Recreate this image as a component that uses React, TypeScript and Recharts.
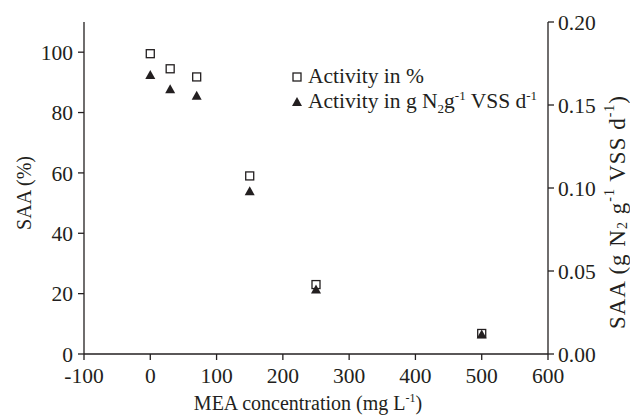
import React from 'react';
import {
  ScatterChart,
  Scatter,
  XAxis,
  YAxis,
  Label,
} from 'recharts';

const concentrations = [0, 30, 70, 150, 250, 500];
const activityPercent = [99.5, 94.5, 91.8, 59, 23, 6.8];
const activityRate = [0.168, 0.1595, 0.1555, 0.098, 0.0389, 0.0117];

const xTicks = [-100, 0, 100, 200, 300, 400, 500, 600];
const leftTicks = [0, 20, 40, 60, 80, 100];
const rightTicks = [0, 0.05, 0.1, 0.15, 0.2];

const percentData = concentrations.map((x, i) => ({ x, y: activityPercent[i] }));
const rateData = concentrations.map((x, i) => ({ x, y: activityRate[i] }));

const FONT = '"Liberation Serif", "Times New Roman", serif';
const INK = '#231f20';
const FS = 21.5;

const tickStyle = { fontFamily: FONT, fontSize: FS, fill: INK };

const SquareShape = (props: any) => {
  const { cx, cy } = props;
  if (cx == null || cy == null) return null;
  return <rect x={cx - 4} y={cy - 4} width={8} height={8} fill="#fff" stroke={INK} strokeWidth={1.3} />;
};

const TriangleShape = (props: any) => {
  const { cx, cy } = props;
  if (cx == null || cy == null) return null;
  return <polygon points={`${cx},${cy - 5} ${cx + 5},${cy + 4} ${cx - 5},${cy + 4}`} fill={INK} />;
};

const LegendBox = () => (
  <div
    style={{
      position: 'absolute',
      left: 290,
      top: 66,
      fontFamily: FONT,
      fontSize: FS,
      color: INK,
      lineHeight: '21px',
      whiteSpace: 'nowrap',
    }}
  >
    <div style={{ display: 'flex', alignItems: 'center' }}>
      <svg width={14} height={14} style={{ marginRight: 4 }}>
        <rect x={3} y={3} width={8} height={8} fill="#fff" stroke={INK} strokeWidth={1.3} />
      </svg>
      <span>Activity in %</span>
    </div>
    <div style={{ display: 'flex', alignItems: 'center', marginTop: 4 }}>
      <svg width={14} height={14} style={{ marginRight: 4 }}>
        <polygon points="7,2 12,11 2,11" fill={INK} />
      </svg>
      <span>
        Activity in g N<sub style={{ fontSize: 13, lineHeight: 0 }}>2</sub>g
        <sup style={{ fontSize: 13, lineHeight: 0 }}>-1</sup> VSS d
        <sup style={{ fontSize: 13, lineHeight: 0 }}>-1</sup>
      </span>
    </div>
  </div>
);

export default function App() {
  return (
    <div style={{ position: 'absolute', left: 0, top: 0, width: 630, height: 419, background: '#fff' }}>
      <ScatterChart width={630} height={419} margin={{ top: 22, right: 0, bottom: 0, left: 0 }}>
        <XAxis
          xAxisId="bottom"
          type="number"
          dataKey="x"
          domain={[-100, 600]}
          ticks={xTicks}
          interval={0}
          height={65}
          tick={tickStyle}
          tickSize={6}
          tickMargin={8}
          axisLine={{ stroke: INK, strokeWidth: 1.3 }}
          tickLine={{ stroke: INK, strokeWidth: 1.3 }}
        >
          <Label
            content={() => (
              <text x={308} y={410} textAnchor="middle" fontFamily={FONT} fontSize={20} fill={INK}>
                MEA concentration (mg L
                <tspan fontSize={12} dy={-8}>-1</tspan>
                <tspan dy={8}>)</tspan>
              </text>
            )}
          />
        </XAxis>
        <XAxis
          xAxisId="top"
          orientation="top"
          type="number"
          dataKey="x"
          domain={[-100, 600]}
          height={0}
          tick={false}
          tickLine={false}
          axisLine={{ stroke: INK, strokeWidth: 1.3 }}
        />
        <YAxis
          yAxisId="left"
          type="number"
          dataKey="y"
          domain={[0, 110]}
          ticks={leftTicks}
          interval={0}
          width={84}
          tick={tickStyle}
          tickSize={6}
          tickMargin={5}
          axisLine={{ stroke: INK, strokeWidth: 1.3 }}
          tickLine={{ stroke: INK, strokeWidth: 1.3 }}
        >
          <Label
            content={() => (
              <text
                x={24}
                y={193}
                transform="rotate(-90 24 193)"
                textAnchor="middle"
                dominantBaseline="central"
                fontFamily={FONT}
                fontSize={20}
                fill={INK}
              >
                SAA (%)
              </text>
            )}
          />
        </YAxis>
        <YAxis
          yAxisId="right"
          orientation="right"
          type="number"
          dataKey="y"
          domain={[0, 0.2]}
          ticks={rightTicks}
          interval={0}
          width={82}
          tick={tickStyle}
          tickFormatter={(v: number) => v.toFixed(2)}
          tickSize={6}
          tickMargin={4}
          axisLine={{ stroke: INK, strokeWidth: 1.3 }}
          tickLine={{ stroke: INK, strokeWidth: 1.3 }}
        >
          <Label
            content={() => (
              <text
                x={617}
                y={212}
                transform="rotate(-90 617 212)"
                textAnchor="middle"
                dominantBaseline="central"
                fontFamily={FONT}
                fontSize={23}
                letterSpacing={1}
                fill={INK}
              >
                SAA (g N
                <tspan fontSize={14} dy={5}>2</tspan>
                <tspan dy={-5}> g</tspan>
                <tspan fontSize={14} dy={-8}>-1</tspan>
                <tspan dy={8}> VSS d</tspan>
                <tspan fontSize={14} dy={-8}>-1</tspan>
                <tspan dy={8}>)</tspan>
              </text>
            )}
          />
        </YAxis>
        <Scatter
          name="Activity in %"
          data={percentData}
          xAxisId="bottom"
          yAxisId="left"
          shape={SquareShape}
          isAnimationActive={false}
        />
        <Scatter
          name="Activity in g N2 g-1 VSS d-1"
          data={rateData}
          xAxisId="bottom"
          yAxisId="right"
          shape={TriangleShape}
          isAnimationActive={false}
        />
      </ScatterChart>
      <LegendBox />
    </div>
  );
}
